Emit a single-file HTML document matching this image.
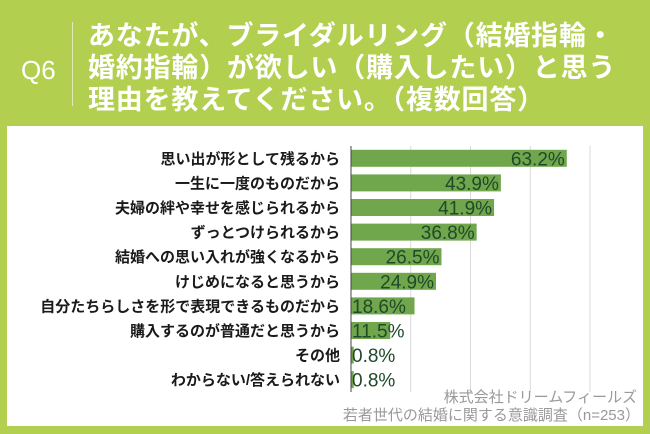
<!DOCTYPE html>
<html><head><meta charset="utf-8"><style>
body{margin:0;width:650px;height:434px;background:#b3cf4f;overflow:hidden;font-family:"Liberation Sans","Noto Sans CJK JP",sans-serif;}
#hdr{position:absolute;left:0;top:0;width:650px;height:126px;}
#q{position:absolute;left:21px;top:55px;color:#fff;font-size:26px;}
#sep{position:absolute;left:72px;top:22px;width:1px;height:84px;background:#dfe9b5;}
#title{position:absolute;left:88px;top:20px;color:#fff;font-size:27px;font-weight:bold;line-height:32px;letter-spacing:0.8px;white-space:nowrap;}
#panel{position:absolute;left:7px;top:126px;width:636px;height:300px;background:#fff;}
</style></head><body>
<div id="hdr">
<div id="q">Q6</div>
<div id="sep"></div>
<div id="title">あなたが、ブライダルリング（結婚指輪・<br>婚約指輪）が欲しい（購入したい）と思う<br>理由を教えてください。（複数回答）</div>
</div>
<div id="panel"></div>
<svg id="chart" width="650" height="434" style="position:absolute;left:0;top:0"></svg>
<script>
const categories=["思い出が形として残るから","一生に一度のものだから","夫婦の絆や幸せを感じられるから","ずっとつけられるから","結婚への思い入れが強くなるから","けじめになると思うから","自分たちらしさを形で表現できるものだから","購入するのが普通だと思うから","その他","わからない/答えられない"];
const values=[63.2,43.9,41.9,36.8,26.5,24.9,18.6,11.5,0.8,0.8];
const gridTicks=[17.5,35,52.5,70];
const svg=document.getElementById('chart');
const NS='http://www.w3.org/2000/svg';
const x0=351,xMax=70,pxW=239,y0=146,rowH=24.6,barH=17;
const X=v=>x0+v/xMax*pxW;
const Y=i=>y0+i*rowH+rowH/2;
function mk(t,a){const e=document.createElementNS(NS,t);for(const k in a)e.setAttribute(k,a[k]);svg.appendChild(e);return e;}
gridTicks.forEach((t,i)=>{const l=mk('line',{x1:X(t),x2:X(t),y1:y0,y2:y0+rowH*categories.length,stroke:'#d9d9d9','stroke-width':1});

});
categories.forEach((c,i)=>{
const t=mk('text',{x:340,y:Y(i)+5.5,'text-anchor':'end','font-size':15,'font-weight':'bold',fill:'#1a1a1a'});t.textContent=c;


const r=mk('rect',{x:x0,y:Y(i)-barH/2,width:X(values[i])-x0,height:barH,fill:'#70a64c'});


const w=X(values[i])-x0;const lbl=values[i].toFixed(1)+'%';
const v=mk('text',{y:Y(i)+7,'font-size':19,fill:'#1f4a2a'});v.textContent=lbl;
if(w>65){v.setAttribute('x',X(values[i])-2);v.setAttribute('text-anchor','end');}else{v.setAttribute('x',x0+1);}


});
const ax=mk('line',{x1:x0,x2:x0,y1:y0,y2:y0+rowH*categories.length,stroke:'#444','stroke-width':1});


const s1=mk('text',{x:637,y:402,'text-anchor':'end','font-size':15,fill:'#999'});s1.textContent='株式会社ドリームフィールズ';


const s2=mk('text',{x:640,y:420,'text-anchor':'end','font-size':15,fill:'#999'});s2.textContent='若者世代の結婚に関する意識調査（n=253）';


</script>
</body></html>
